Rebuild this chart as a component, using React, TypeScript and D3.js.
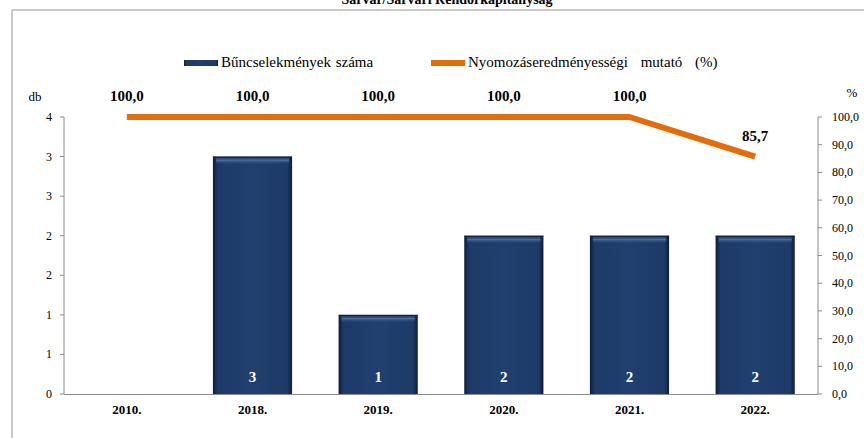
import React from "react";
import * as d3 from "d3";

const categories = ["2010.", "2018.", "2019.", "2020.", "2021.", "2022."];
const crimeCounts = [0, 3, 1, 2, 2, 2];
const clearanceRates = [100.0, 100.0, 100.0, 100.0, 100.0, 85.7];
const leftTicks = [0, 0.5, 1, 1.5, 2, 2.5, 3, 3.5];
const rightTicks = [0, 10, 20, 30, 40, 50, 60, 70, 80, 90, 100];
const titleText = "Sárvár/Sárvári Rendőrkapitányság";
const legendBars = "Bűncselekmények száma";
const legendLine = "Nyomozáseredményességi mutató (%)";

const W = 864;
const H = 438;
const plot = { left: 64, right: 818, top: 117, bottom: 394 };
const FONT = "Liberation Serif";

export default function App() {
  const x = d3
    .scaleBand<string>()
    .domain(categories)
    .range([plot.left, plot.right])
    .paddingInner(0.37)
    .paddingOuter(0.185);
  const yL = d3.scaleLinear().domain([0, 3.5]).range([plot.bottom, plot.top]);
  const yR = d3.scaleLinear().domain([0, 100]).range([plot.bottom, plot.top]);
  const cx = (c: string) => (x(c) as number) + x.bandwidth() / 2;

  const line = d3
    .line<number>()
    .x((_, i) => cx(categories[i]))
    .y((d) => yR(d));

  const fmtL = (v: number) => String(Math.floor(v + 0.5));
  const fmtR = (v: number) => v.toFixed(1).replace(".", ",");

  return (
    <svg
      width={W}
      height={H}
      fontFamily={FONT}
      style={{ position: "absolute", left: 0, top: 0, background: "#fff" }}
    >
      <defs>
        <linearGradient id="barH" x1="0" x2="1" y1="0" y2="0">
          <stop offset="0" stopColor="#0e1d38" />
          <stop offset="0.06" stopColor="#1d3a68" />
          <stop offset="0.5" stopColor="#21406f" />
          <stop offset="0.94" stopColor="#1d3a68" />
          <stop offset="1" stopColor="#0e1d38" />
        </linearGradient>
        <linearGradient id="barTop" x1="0" x2="0" y1="0" y2="1">
          <stop offset="0" stopColor="#1a3563" />
          <stop offset="0.4" stopColor="#4a6a9a" />
          <stop offset="1" stopColor="#21406f" stopOpacity="0" />
        </linearGradient>
      </defs>

      {/* outer frame */}
      <line x1={12} x2={W} y1={10} y2={10} stroke="#b8b8b8" strokeWidth={1.5} />
      <line x1={12} x2={12} y1={10} y2={H} stroke="#b8b8b8" strokeWidth={1.5} />

      {/* title (partially cut at top, as in the reference) */}
      <text x={447} y={4} textAnchor="middle" fontSize={14} fontWeight="bold" fill="#000">
        {titleText}
      </text>

      {/* legend */}
      <rect x={184} y={60} width={34} height={6} fill="url(#barH)" />
      <text x={221} y={67} fontSize={15} fill="#000" wordSpacing={1}>
        {legendBars}
      </text>
      <rect x={431} y={60} width={34} height={6} fill="#e46c0a" />
      <text x={468} y={67} fontSize={15} fill="#000" wordSpacing={9}>
        {legendLine}
      </text>

      {/* axis units */}
      <text x={35} y={101} fontSize={13} textAnchor="middle" fill="#000">db</text>
      <text x={852} y={97} fontSize={13} textAnchor="middle" fill="#000">%</text>

      {/* bars */}
      {categories.map((c, i) => {
        const v = crimeCounts[i];
        if (v <= 0) return null;
        const bx = x(c) as number;
        const by = yL(v);
        const bh = yL(0) - by;
        return (
          <g key={c}>
            <rect x={bx} y={by} width={x.bandwidth()} height={bh} fill="url(#barH)" />
            <rect x={bx + 3} y={by + 1} width={x.bandwidth() - 6} height={7} fill="url(#barTop)" />
            <line x1={bx} x2={bx + x.bandwidth()} y1={by + 0.5} y2={by + 0.5} stroke="#10203d" strokeWidth={1} />
            <text x={cx(c)} y={yL(0) - 12} textAnchor="middle" fontSize={15} fontWeight="bold" fill="#fff">
              {v}
            </text>
          </g>
        );
      })}

      {/* axes */}
      <g stroke="#8c8c8c" strokeWidth={1}>
        <line x1={plot.left} x2={plot.left} y1={plot.top} y2={plot.bottom} />
        <line x1={plot.right} x2={plot.right} y1={plot.top} y2={plot.bottom} />
        <line x1={plot.left} x2={plot.right} y1={plot.bottom + 0.5} y2={plot.bottom + 0.5} />
        {leftTicks.map((t) => (
          <line key={"lt" + t} x1={plot.left - 4} x2={plot.left} y1={yL(t)} y2={yL(t)} />
        ))}
        {rightTicks.map((t) => (
          <line key={"rt" + t} x1={plot.right} x2={plot.right + 4} y1={yR(t)} y2={yR(t)} />
        ))}
      </g>
      {leftTicks.map((t) => (
        <text key={"ll" + t} x={52} y={yL(t) + 4} textAnchor="end" fontSize={12} fill="#000">
          {fmtL(t)}
        </text>
      ))}
      {rightTicks.map((t) => (
        <text key={"rl" + t} x={832} y={yR(t) + 4} textAnchor="start" fontSize={12} fill="#000">
          {fmtR(t)}
        </text>
      ))}
      {categories.map((c) => (
        <text key={"xl" + c} x={cx(c)} y={414} textAnchor="middle" fontSize={13} fontWeight="bold" fill="#000">
          {c}
        </text>
      ))}

      {/* line series */}
      <path d={line(clearanceRates) || ""} fill="none" stroke="#e46c0a" strokeWidth={6} strokeLinejoin="round" />
      {clearanceRates.map((v, i) => (
        <text
          key={"pl" + i}
          x={cx(categories[i])}
          y={yR(v) - 16}
          textAnchor="middle"
          fontSize={15}
          fontWeight="bold"
          fill="#000"
        >
          {fmtR(v)}
        </text>
      ))}
    </svg>
  );
}
